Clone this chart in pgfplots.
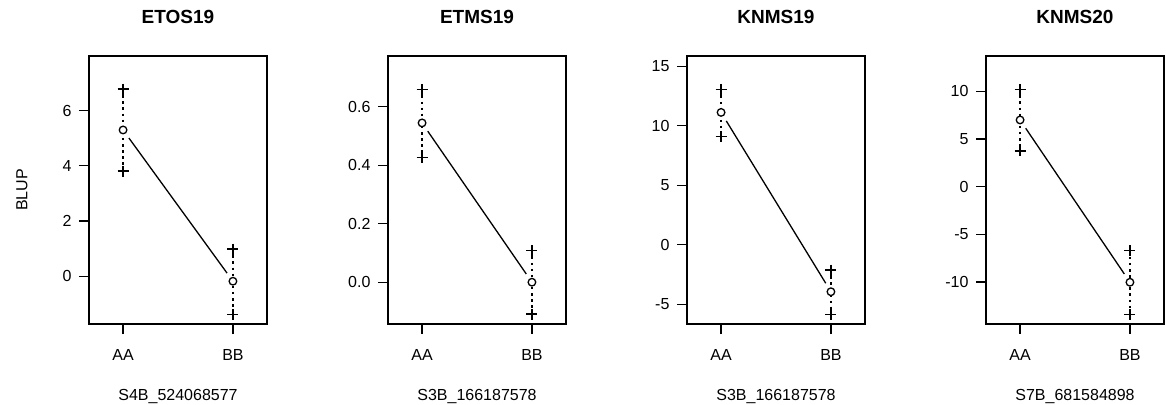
\documentclass[border=0pt]{standalone}
\usepackage{fontspec}
\setmainfont{Liberation Sans}
\usepackage{pgfplots}
\pgfplotsset{compat=1.18}
\begin{document}
\begin{tikzpicture}
\useasboundingbox (0,0) rectangle (1166pt,404pt);
\pgfplotsset{
  panel/.style={
    scale only axis, width=178pt, height=268pt, anchor=south west,
    xmin=0.69, xmax=2.31, xtick={1,2}, xticklabels={AA,BB},
    axis line style={line width=1.3pt, black},
    tick style={line width=1.2pt, black},
    tick align=outside, major tick length=10pt,
    xtick pos=bottom, ytick pos=left,
    tick label style={font=\fontsize{16}{19}\selectfont},
    xticklabel style={yshift=-12pt},
    yticklabel style={xshift=-4pt},
    /pgf/number format/assume math mode=true,
    every axis title shift=0pt,
    title style={font=\bfseries\fontsize{19}{23}\selectfont, at={(axis description cs:0.5,1.1455)}, anchor=center},
    xlabel style={font=\fontsize{16}{19}\selectfont, at={(axis description cs:0.5,-0.272)}, anchor=center},
    ylabel style={font=\fontsize{16}{19}\selectfont, at={(axis description cs:-0.376,0.5)}, anchor=center, rotate=0},
    clip=false,
  },
  meanline/.style={black, line width=1.3pt, shorten <=10pt, shorten >=10pt, mark=none},
  ci/.style={black, line width=1.3pt, dash pattern=on 2.5pt off 3.6pt, mark=none},
  plus/.style={black, only marks, mark=+, mark size=5.5pt, mark options={line width=1.5pt, solid, draw=black}},
  circ/.style={black, only marks, mark=*, mark size=3.8pt, mark options={fill=white, draw=black, line width=1.3pt, solid}},
}

% Panel 1
\begin{axis}[panel, at={(89pt,80pt)}, ymin=-1.73, ymax=7.98, ytick={0,2,4,6},
  title={ETOS19}, xlabel={S4B\_524068577}, ylabel={BLUP}]
\addplot[ci] coordinates {(1,6.78) (1,3.81)};
\addplot[ci] coordinates {(2,0.98) (2,-1.39)};
\addplot[meanline] coordinates {(1,5.30) (2,-0.18)};
\addplot[plus] coordinates {(1,6.78) (1,3.81) (2,0.98) (2,-1.39)};
\addplot[circ] coordinates {(1,5.30) (2,-0.18)};
\end{axis}

% Panel 2
\begin{axis}[panel, at={(388pt,80pt)}, ymin=-0.143, ymax=0.774, ytick={0,0.2,0.4,0.6},
  yticklabel style={/pgf/number format/.cd, fixed, fixed zerofill, precision=1},
  title={ETMS19}, xlabel={S3B\_166187578}]
\addplot[ci] coordinates {(1,0.660) (1,0.426)};
\addplot[ci] coordinates {(2,0.109) (2,-0.109)};
\addplot[meanline] coordinates {(1,0.545) (2,0.0)};
\addplot[plus] coordinates {(1,0.660) (1,0.426) (2,0.109) (2,-0.109)};
\addplot[circ] coordinates {(1,0.545) (2,0.0)};
\end{axis}

% Panel 3
\begin{axis}[panel, at={(687pt,80pt)}, ymin=-6.66, ymax=15.86, ytick={-5,0,5,10,15},
  title={KNMS19}, xlabel={S3B\_166187578}]
\addplot[ci] coordinates {(1,13.06) (1,9.11)};
\addplot[ci] coordinates {(2,-2.13) (2,-5.85)};
\addplot[meanline] coordinates {(1,11.12) (2,-3.95)};
\addplot[plus] coordinates {(1,13.06) (1,9.11) (2,-2.13) (2,-5.85)};
\addplot[circ] coordinates {(1,11.12) (2,-3.95)};
\end{axis}

% Panel 4
\begin{axis}[panel, at={(986pt,80pt)}, ymin=-14.41, ymax=13.71, ytick={-10,-5,0,5,10},
  title={KNMS20}, xlabel={S7B\_681584898}]
\addplot[ci] coordinates {(1,10.22) (1,3.75)};
\addplot[ci] coordinates {(2,-6.72) (2,-13.43)};
\addplot[meanline] coordinates {(1,7.0) (2,-10.03)};
\addplot[plus] coordinates {(1,10.22) (1,3.75) (2,-6.72) (2,-13.43)};
\addplot[circ] coordinates {(1,7.0) (2,-10.03)};
\end{axis}
\end{tikzpicture}
\end{document}
